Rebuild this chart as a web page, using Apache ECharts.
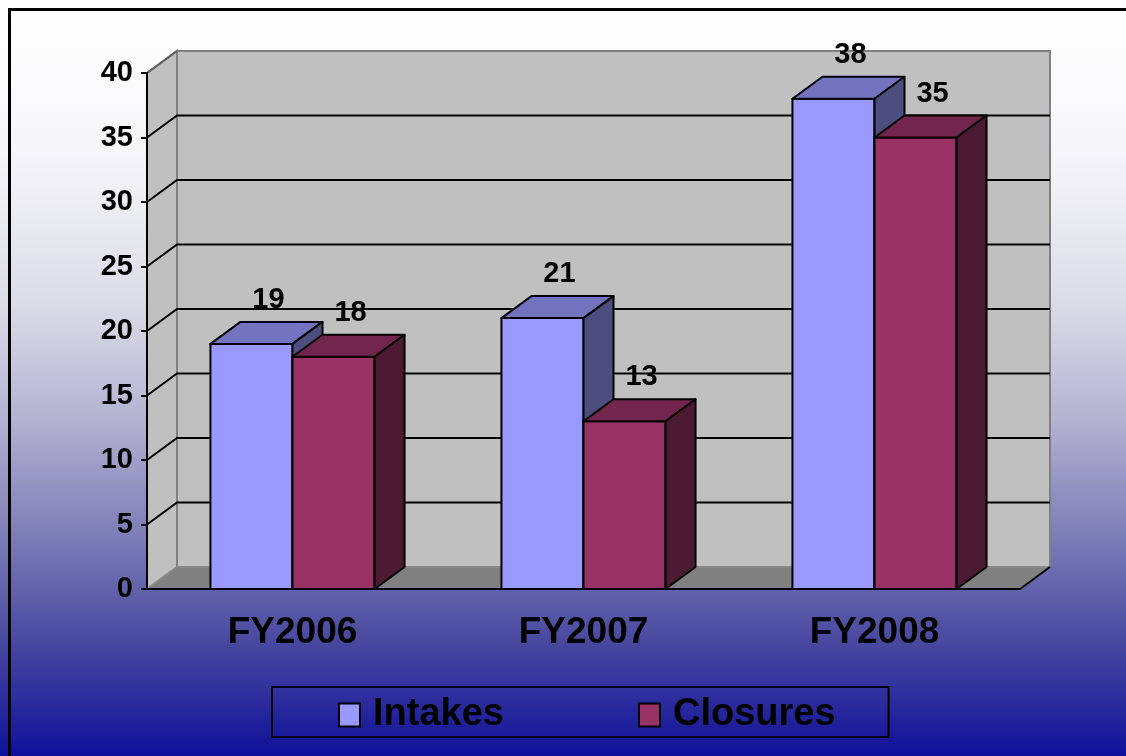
<!DOCTYPE html>
<html>
<head>
<meta charset="utf-8">
<script src="https://cdn.jsdelivr.net/npm/echarts@6/dist/echarts.min.js"></script>
<style>
  html, body { margin: 0; padding: 0; }
  #chart { width: 1126px; height: 756px; }
</style>
</head>
<body>
<div id="chart"></div>
<script>
const categories = ['FY2006', 'FY2007', 'FY2008'];
const intakes = [19, 21, 38];
const closures = [18, 13, 35];
const seriesNames = ['Intakes', 'Closures'];

// depth of the fake 3d box
const DX = 30;
const DY = 22;
const AXIS_MAX = 40;
const AXIS_STEP = 5;

const faces = {
  Intakes: { front: '#9999ff', top: '#7373bf', side: '#4d4d80', shift: -1 },
  Closures: { front: '#993366', top: '#73264d', side: '#4d1a33', shift: 0 }
};

function renderWalls(params, api) {
  const cs = params.coordSys;
  const x0 = cs.x, x1 = cs.x + cs.width;
  const yt = cs.y, yb = cs.y + cs.height;
  const kids = [];
  // back wall
  kids.push({
    type: 'rect',
    shape: { x: x0 + DX, y: yt - DY, width: cs.width, height: cs.height },
    style: { fill: '#c0c0c0', stroke: '#808080', lineWidth: 2 }
  });
  // left side wall
  kids.push({
    type: 'polygon',
    shape: { points: [[x0, yb], [x0 + DX, yb - DY], [x0 + DX, yt - DY], [x0, yt]] },
    style: { fill: '#c0c0c0', stroke: '#808080', lineWidth: 2 }
  });
  // floor
  kids.push({
    type: 'polygon',
    shape: { points: [[x0, yb], [x1, yb], [x1 + DX, yb - DY], [x0 + DX, yb - DY]] },
    style: { fill: '#808080', stroke: '#909090', lineWidth: 1 }
  });
  kids.push({
    type: 'line',
    shape: { x1: x1, y1: yb, x2: x1 + DX, y2: yb - DY },
    style: { stroke: '#000', lineWidth: 2 }
  });
  // gridlines
  for (let v = AXIS_STEP; v < AXIS_MAX; v += AXIS_STEP) {
    const y = api.coord([0, v])[1];
    kids.push({
      type: 'polyline',
      shape: { points: [[x0, y], [x0 + DX, y - DY], [x1 + DX, y - DY]] },
      style: { stroke: '#000', lineWidth: 2, fill: null }
    });
  }
  kids.push({
    type: 'line',
    shape: { x1: x0, y1: yt, x2: x0 + DX, y2: yt - DY },
    style: { stroke: '#606060', lineWidth: 2 }
  });
  return { type: 'group', children: kids };
}

function renderBar(params, api) {
  const f = faces[params.seriesName];
  const cat = api.value(0);
  const val = api.value(1);
  const top = api.coord([cat, val]);
  const base = api.coord([cat, 0]);
  const band = api.size([1, 0])[0];
  const w = band * 0.282;
  const left = top[0] + f.shift * w;
  const ty = top[1], by = base[1];
  const edge = { stroke: '#000', lineWidth: 2, lineJoin: 'round' };
  return {
    type: 'group',
    children: [
      {
        type: 'rect',
        shape: { x: left, y: ty, width: w, height: by - ty },
        style: Object.assign({ fill: f.front }, edge)
      },
      {
        type: 'polygon',
        shape: { points: [[left, ty], [left + DX, ty - DY], [left + w + DX, ty - DY], [left + w, ty]] },
        style: Object.assign({ fill: f.top }, edge)
      },
      {
        type: 'polygon',
        shape: { points: [[left + w, ty], [left + w + DX, ty - DY], [left + w + DX, by - DY], [left + w, by]] },
        style: Object.assign({ fill: f.side }, edge)
      },
      {
        type: 'text',
        style: {
          x: left + w / 2 + 17,
          y: ty - DY - 22,
          text: String(val),
          fill: '#000',
          font: 'bold 29px "Liberation Sans", Arial, sans-serif',
          align: 'center',
          verticalAlign: 'middle'
        }
      }
    ]
  };
}

const chart = echarts.init(document.getElementById('chart'));
chart.setOption({
  animation: false,
  backgroundColor: {
    type: 'linear', x: 0, y: 0, x2: 0, y2: 1,
    colorStops: [
      { offset: 0, color: '#ffffff' },
      { offset: 0.2, color: '#f6f6f9' },
      { offset: 0.4, color: '#dcdce8' },
      { offset: 0.55, color: '#b4b4d2' },
      { offset: 0.7, color: '#8080b8' },
      { offset: 0.85, color: '#4848a0' },
      { offset: 1, color: '#10109a' }
    ]
  },
  textStyle: { fontFamily: '"Liberation Sans", Arial, sans-serif' },
  graphic: [{
    type: 'rect',
    left: 7, top: 7,
    shape: { width: 1140, height: 770 },
    style: { fill: null, stroke: '#000', lineWidth: 3 },
    silent: true
  }],
  grid: { left: 147, right: 106, top: 73, bottom: 167 },
  xAxis: {
    type: 'category',
    data: categories,
    z: 3,
    axisLine: { lineStyle: { color: '#000', width: 2 } },
    axisTick: { length: 8, lineStyle: { color: '#000', width: 2 } },
    axisLabel: { color: '#000', fontWeight: 'bold', fontSize: 37, margin: 25 },
    splitLine: { show: false }
  },
  yAxis: {
    type: 'value',
    min: 0, max: AXIS_MAX, interval: AXIS_STEP,
    z: 3,
    axisLine: { show: true, lineStyle: { color: '#000', width: 2 } },
    axisTick: { show: true, length: 6, lineStyle: { color: '#000', width: 2 } },
    axisLabel: { color: '#000', fontWeight: 'bold', fontSize: 29, margin: 14 },
    splitLine: { show: false }
  },
  legend: {
    data: seriesNames,
    left: 272, top: 687,
    padding: [9, 53, 3, 66],
    itemGap: 134,
    itemWidth: 21, itemHeight: 23,
    borderColor: '#000', borderWidth: 2,
    icon: 'rect',
    selectedMode: false,
    textStyle: { color: '#000', fontWeight: 'bold', fontSize: 38, padding: [0, 0, 0, 8] }
  },
  series: [
    {
      type: 'custom',
      name: 'walls',
      silent: true,
      z: 1,
      renderItem: renderWalls,
      data: [[0, 0]],
      encode: { x: 0, y: 1 }
    },
    {
      type: 'custom',
      name: seriesNames[0],
      z: 4,
      renderItem: renderBar,
      itemStyle: { color: faces.Intakes.front, borderColor: '#000', borderWidth: 2 },
      data: intakes.map((v, i) => [i, v]),
      encode: { x: 0, y: 1 }
    },
    {
      type: 'custom',
      name: seriesNames[1],
      z: 4,
      renderItem: renderBar,
      itemStyle: { color: faces.Closures.front, borderColor: '#000', borderWidth: 2 },
      data: closures.map((v, i) => [i, v]),
      encode: { x: 0, y: 1 }
    }
  ]
});
</script>
</body>
</html>
